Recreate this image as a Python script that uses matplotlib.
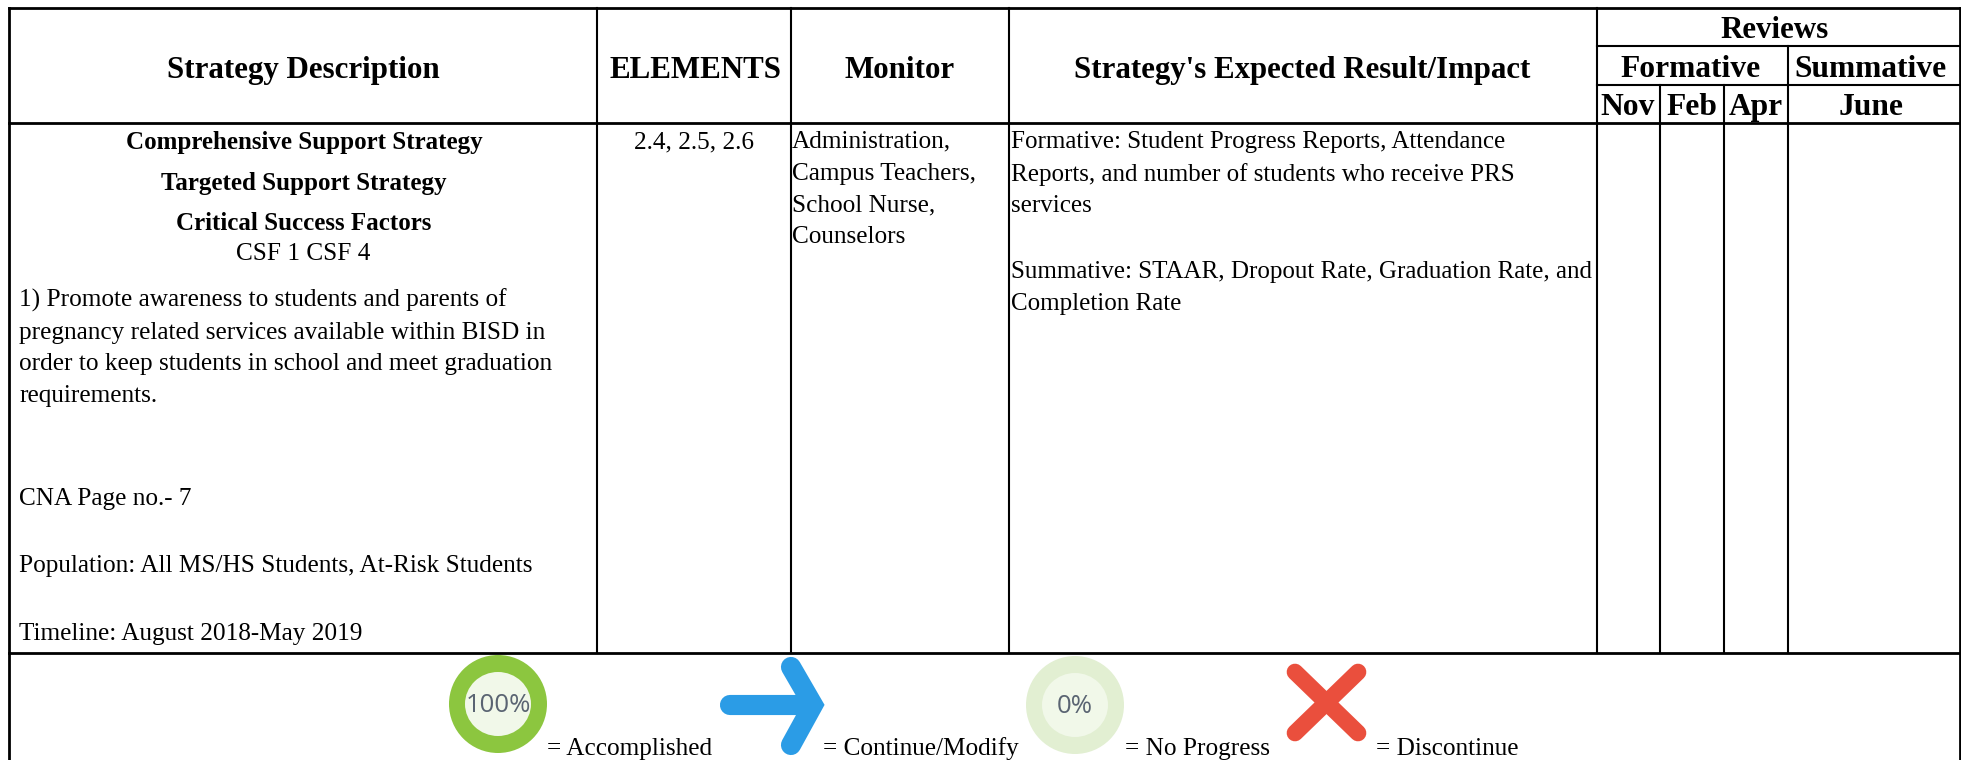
import matplotlib
matplotlib.use("Agg")
import matplotlib.pyplot as plt
from matplotlib.patches import Ellipse
from matplotlib.lines import Line2D

W, H = 1961, 760
plt.rcParams['font.family'] = ['Liberation Serif', 'DejaVu Serif']

header_labels = ["Strategy Description", "ELEMENTS", "Monitor", "Strategy's Expected Result/Impact"]
review_labels = ["Reviews", "Formative", "Summative", "Nov", "Feb", "Apr", "June"]
left_bold = ["Comprehensive Support Strategy", "Targeted Support Strategy", "Critical Success Factors"]
left_center = "CSF 1 CSF 4"
left_body = ["1) Promote awareness to students and parents of",
             "pregnancy related services available within BISD in",
             "order to keep students in school and meet graduation",
             "requirements."]
left_notes = ["CNA Page no.- 7", "Population: All MS/HS Students, At-Risk Students", "Timeline: August 2018-May 2019"]
elements = "2.4, 2.5, 2.6"
monitor = ["Administration,", "Campus Teachers,", "School Nurse,", "Counselors"]
impact = ["Formative: Student Progress Reports, Attendance",
          "Reports, and number of students who receive PRS",
          "services",
          "Summative: STAAR, Dropout Rate, Graduation Rate, and",
          "Completion Rate"]
legend_labels = ["= Accomplished", "= Continue/Modify", "= No Progress", "= Discontinue"]

fig = plt.figure(figsize=(W/100, H/100), dpi=100, facecolor='white')
ax = fig.add_axes([0, 0, 1, 1])
ax.set_xlim(0, W); ax.set_ylim(H, 0); ax.axis('off')

L, R = 9, 1960
T, HB, TB = 8, 123, 653
cols = [597, 791, 1009, 1597]
rev = [1660, 1724, 1788]
y1, y2 = 46, 85

def ln(x0, y0, x1, y1_, lw=1.5):
    ax.add_line(Line2D([x0, x1], [y0, y1_], color='black', lw=lw, solid_capstyle='projecting'))

ln(L, T, R, T, 2); ln(L, HB, R, HB, 2); ln(L, TB, R, TB, 2)
ln(L, T, L, H, 2); ln(R, T, R, H, 2)
for c in cols:
    ln(c, T, c, TB)
ln(cols[3], y1, R, y1); ln(cols[3], y2, R, y2)
for c in rev[:2]:
    ln(c, y2, c, TB)
ln(rev[2], y1, rev[2], TB)

HS = 22.3
RS = 22.7
BS = 18.15
def t(x, y, s, size=BS, bold=False, ha='left'):
    return ax.text(x, y, s, fontsize=size, fontweight='bold' if bold else 'normal', ha=ha, va='baseline', color='black')

t(303, 78, header_labels[0], HS, True, 'center')
t(695, 78, header_labels[1], HS, True, 'center')
t(900, 78, header_labels[2], HS, True, 'center')
t(1302, 78, header_labels[3], 22.2, True, 'center')
t(1775, 38, review_labels[0], 22.3, True, 'center')
t(1691, 77, review_labels[1], RS, True, 'center')
t(1870, 77, review_labels[2], RS, True, 'center')
for x, s in zip([1628, 1692, 1756, 1871], review_labels[3:]):
    t(x, 115, s, RS, True, 'center')

for y, s in zip([149, 190, 230], left_bold):
    t(304, y, s, 18.0, True, 'center')
t(303, 260, left_center, BS, False, 'center')
for y, s in zip([307, 339, 370, 402], left_body):
    t(19, y, s)
for y, s in zip([505, 572, 640], left_notes):
    t(19, y, s)
t(694, 148, elements, BS, False, 'center')
for y, s in zip([147, 180, 211, 243], monitor):
    t(792, y, s)
for y, s in zip([148, 181, 212, 278, 310], impact):
    t(1011, y, s, 18.0)

# Legend icons
ax.add_patch(Ellipse((498, 704), 98, 98, fc='#8cc63f', ec='none'))
ax.add_patch(Ellipse((498, 704), 66, 64, fc='#f1f8e9', ec='none'))
t(498, 712, "100%", 18.5, False, 'center').set(family='Open Sans', color='#5a6472')

ax.add_line(Line2D([730, 812], [705, 705], color='#2b9ce6', lw=14.5, solid_capstyle='round'))
ax.add_line(Line2D([791, 813, 791], [667, 705, 745], color='#2b9ce6', lw=14.5,
                   solid_capstyle='round', solid_joinstyle='miter'))

ax.add_patch(Ellipse((1075, 705), 98, 98, fc='#e2efd2', ec='none'))
ax.add_patch(Ellipse((1075, 705), 66, 64, fc='#f1f8e9', ec='none'))
t(1075, 713, "0%", 18.5, False, 'center').set(family='Open Sans', color='#5a6472')

ax.add_line(Line2D([1295, 1358], [672, 733], color='#ea4f3d', lw=12, solid_capstyle='round'))
ax.add_line(Line2D([1358, 1295], [672, 733], color='#ea4f3d', lw=12, solid_capstyle='round'))

for x, s in zip([547, 823, 1125, 1376], legend_labels):
    t(x, 755, s)

fig.savefig("out.png", dpi=100)
